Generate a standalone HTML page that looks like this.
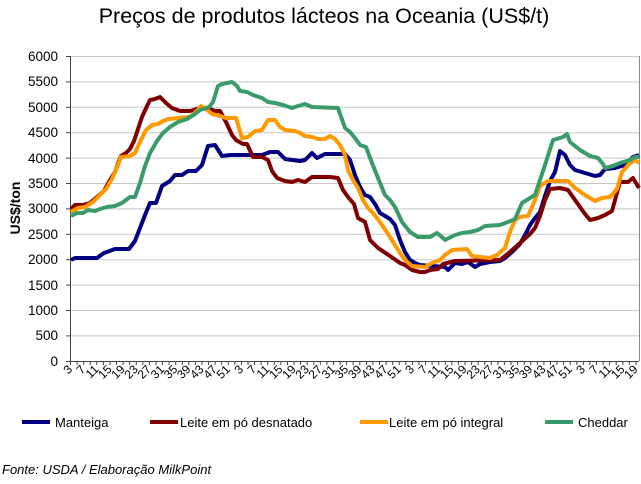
<!DOCTYPE html>
<html><head><meta charset="utf-8"><style>
body{margin:0;background:#fff;width:641px;height:479px;overflow:hidden;font-family:"Liberation Sans",Arial,sans-serif}
</style></head><body>
<svg width="641" height="479" viewBox="0 0 641 479" xmlns="http://www.w3.org/2000/svg" font-family="Liberation Sans, Arial, sans-serif">
<rect width="641" height="479" fill="#fff"/>
<text x="324" y="23" font-size="21.5" text-anchor="middle" fill="#000">Preços de produtos lácteos na Oceania (US$/t)</text>
<g stroke="#c8c8c8" stroke-width="1">
<line x1="71" y1="56.5" x2="639" y2="56.5"/><line x1="71" y1="81.9" x2="639" y2="81.9"/><line x1="71" y1="107.3" x2="639" y2="107.3"/><line x1="71" y1="132.7" x2="639" y2="132.7"/><line x1="71" y1="158.1" x2="639" y2="158.1"/><line x1="71" y1="183.5" x2="639" y2="183.5"/><line x1="71" y1="208.9" x2="639" y2="208.9"/><line x1="71" y1="234.3" x2="639" y2="234.3"/><line x1="71" y1="259.7" x2="639" y2="259.7"/><line x1="71" y1="285.1" x2="639" y2="285.1"/><line x1="71" y1="310.5" x2="639" y2="310.5"/><line x1="71" y1="335.9" x2="639" y2="335.9"/>
</g>
<line x1="639.5" y1="56" x2="639.5" y2="361" stroke="#888"/>
<g stroke="#444" stroke-width="1">
<line x1="70.5" y1="56" x2="70.5" y2="362"/><line x1="70" y1="361.5" x2="639" y2="361.5"/>
<line x1="66" y1="56.5" x2="70" y2="56.5"/><line x1="66" y1="81.9" x2="70" y2="81.9"/><line x1="66" y1="107.3" x2="70" y2="107.3"/><line x1="66" y1="132.7" x2="70" y2="132.7"/><line x1="66" y1="158.1" x2="70" y2="158.1"/><line x1="66" y1="183.5" x2="70" y2="183.5"/><line x1="66" y1="208.9" x2="70" y2="208.9"/><line x1="66" y1="234.3" x2="70" y2="234.3"/><line x1="66" y1="259.7" x2="70" y2="259.7"/><line x1="66" y1="285.1" x2="70" y2="285.1"/><line x1="66" y1="310.5" x2="70" y2="310.5"/><line x1="66" y1="335.9" x2="70" y2="335.9"/><line x1="66" y1="361.5" x2="70" y2="361.5"/>
</g>
<path id="ticks" stroke="#444" stroke-width="1" d=""/>
<g font-size="13.5" text-anchor="end" fill="#000">
<text x="58" y="61">6000</text><text x="58" y="86">5500</text><text x="58" y="112">5000</text><text x="58" y="137">4500</text><text x="58" y="163">4000</text><text x="58" y="188">3500</text><text x="58" y="213">3000</text><text x="58" y="239">2500</text><text x="58" y="264">2000</text><text x="58" y="290">1500</text><text x="58" y="315">1000</text><text x="58" y="340">500</text><text x="58" y="366">0</text>
</g>
<text transform="translate(20,208) rotate(-90)" font-size="14" font-weight="bold" text-anchor="middle">US$/ton</text>
<g id="xl" font-size="12" fill="#000"></g>
<g fill="none" stroke-width="4" stroke-linejoin="round">
<polyline stroke="#000080" points="71,260 75,258 97,258 104,253 115,249 129,249 135,241 145,215 150,203 156,203 162,186 170,181 175,175 182,175 188,171 196,171 202,165 208,146 215,145 222,156 230,155 250,155 262,155 270,152 278,152 285,159 300,161 305,160 312,153 317,158 325,154 345,154 350,160 355,175 360,187 365,195 370,197 375,204 380,213 385,216 390,219 395,225 400,240 405,252 410,260 415,263 420,265 445,267 448,270 455,263 462,264 468,262 475,267 480,264 490,262 500,261 505,258 512,252 520,244 525,235 530,225 535,218 540,212 545,196 550,181 555,172 560,151 565,155 570,165 575,170 585,173 595,176 600,175 605,169 615,168 625,165 633,157 639,155"/>
<polyline stroke="#800000" points="71,209 75,205 83,205 90,203 97,197 104,191 110,180 115,172 119,161 121,156 126,153 130,149 134,141 137,132 142,117 147,106 150,100 155,99 160,97 166,103 172,108 180,111 190,111 200,108 210,109 215,111 220,111 226,122 232,135 236,140 243,144 247,144 253,157 262,157 268,160 272,171 277,178 285,181 292,182 298,180 305,182 312,177 330,177 338,178 343,190 348,197 354,204 358,218 365,222 370,240 378,248 390,256 400,263 405,265 412,270 420,272 425,272 430,270 438,269 443,264 455,261 500,260 510,252 520,243 530,234 535,228 540,216 545,200 550,189 560,188 568,190 575,200 585,214 590,220 598,218 605,215 612,211 620,182 628,182 633,178 639,188"/>
<polyline stroke="#FF9900" points="71,212 78,208 85,207 93,202 100,195 106,189 112,179 118,165 121,157 130,156 135,153 140,142 146,130 152,125 158,124 163,121 168,119 190,117 197,111 201,106 205,108 212,114 220,116 226,118 236,118 242,138 248,137 255,131 262,130 268,120 275,120 280,127 285,130 295,131 300,133 305,136 312,137 318,139 325,139 330,136 335,139 340,145 345,155 348,170 353,180 358,188 363,200 368,208 373,213 380,222 388,234 395,245 400,253 405,260 412,266 425,267 432,263 440,260 445,255 452,250 467,249 472,256 480,257 490,258 497,255 505,248 510,232 515,220 520,217 528,216 535,200 540,186 548,181 568,181 575,188 585,195 595,201 602,198 610,197 617,189 622,172 630,163 635,160 639,163"/>
<polyline stroke="#3A9B6A" points="71,216 77,213 83,213 88,210 95,211 100,209 107,207 115,206 122,203 130,197 135,197 140,183 145,166 150,153 157,141 163,133 170,127 178,122 187,119 195,114 200,110 207,108 210,106 213,102 218,86 222,84 232,82 237,86 240,91 247,92 253,95 262,98 268,102 275,103 283,105 292,108 298,106 305,104 312,107 338,108 345,128 350,132 355,138 360,145 366,147 372,163 378,178 385,195 390,200 395,207 402,222 410,232 418,237 430,237 437,233 443,238 445,240 455,235 462,233 470,232 478,230 485,226 500,225 508,222 515,219 522,203 530,198 535,195 540,180 545,165 553,140 563,137 567,134 570,142 580,150 590,156 598,158 603,164 605,168 613,166 620,163 630,160 635,157 639,157"/>
</g>
<g font-size="13" fill="#000">
<line x1="22" y1="422" x2="50" y2="422" stroke="#000080" stroke-width="4"/><text x="55" y="427">Manteiga</text>
<line x1="150" y1="422" x2="178" y2="422" stroke="#800000" stroke-width="4"/><text x="180" y="427">Leite em pó desnatado</text>
<line x1="360" y1="422" x2="388" y2="422" stroke="#FF9900" stroke-width="4"/><text x="389" y="427">Leite em pó integral</text>
<line x1="545" y1="422" x2="573" y2="422" stroke="#3A9B6A" stroke-width="4"/><text x="578" y="427">Cheddar</text>
</g>
<text x="2" y="474" font-size="13" font-style="italic">Fonte: USDA / Elaboração MilkPoint</text>
</svg>
<script>
var labs=[3,7,11,15,19,23,27,31,35,39,43,47,51];var all=[];for(var y=0;y<3;y++)all=all.concat(labs);all=all.concat([3,7,11,15,19]);
var g=document.getElementById('xl'),s='';
all.forEach(function(v,i){var x=70+i*13.15;s+='<text text-anchor="end" transform="translate('+(x+3)+',370) rotate(-45)">'+v+'</text>';});
g.innerHTML=s;
var d='';for(var x=70.5;x<=639;x+=6.575)d+='M'+x.toFixed(1)+' 361V365';document.getElementById('ticks').setAttribute('d',d);
</script>
</body></html>
